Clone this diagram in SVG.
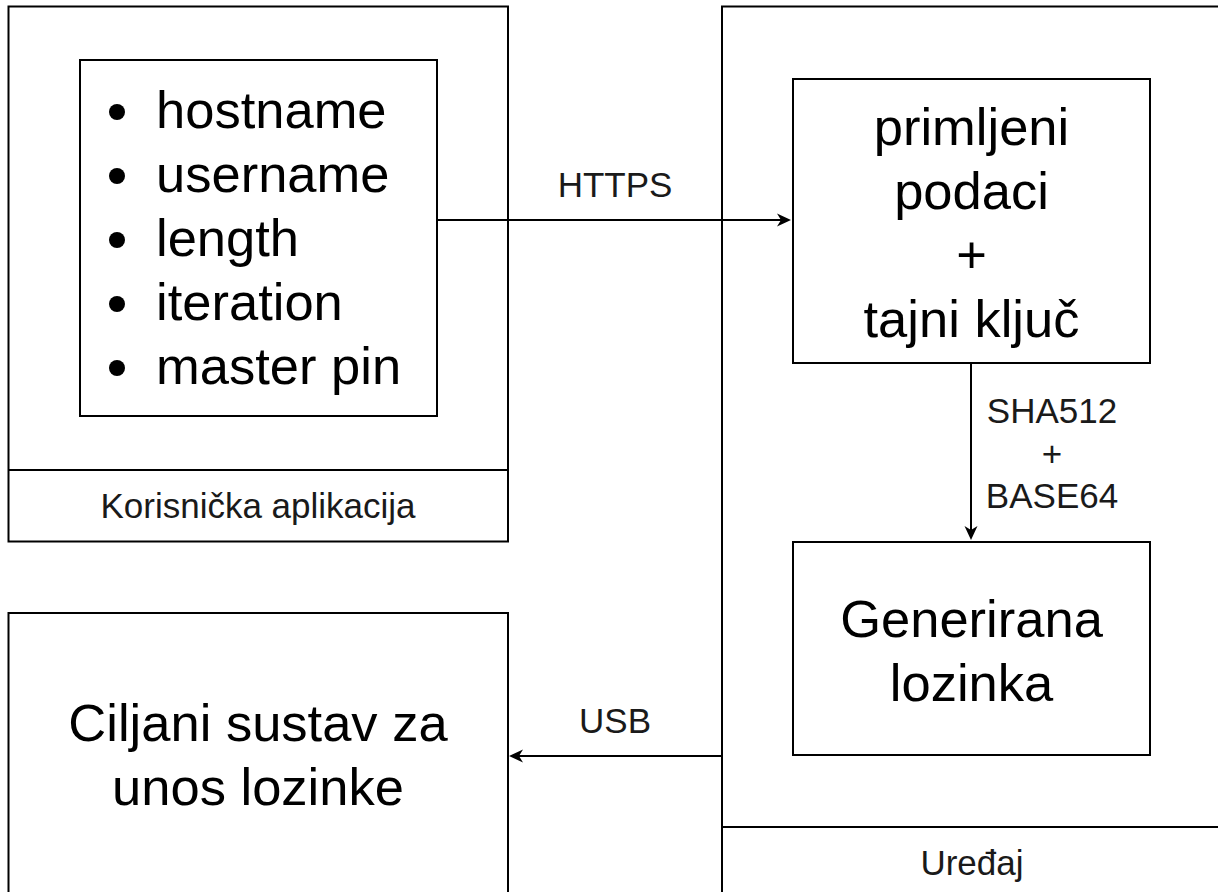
<svg xmlns="http://www.w3.org/2000/svg" width="1218" height="892" viewBox="0 0 1218 892">
  <style>
    .box { fill: #ffffff; stroke: #000000; stroke-width: 2; }
    .div { stroke: #000000; stroke-width: 2; fill: none; }
    .big { font-family: "Liberation Sans", Arial, sans-serif; font-size: 52.5px; fill: #000000; }
    .lbl { font-family: "Liberation Sans", Arial, sans-serif; font-size: 35px; fill: #1a1a1a; }
    .mid { text-anchor: middle; }
    .edge { stroke: #000000; stroke-width: 2; fill: none; }
  </style>
  <defs>
    <marker id="arrow" viewBox="0 0 16 14" markerWidth="16" markerHeight="14" refX="5" refY="7" orient="auto" markerUnits="userSpaceOnUse">
      <path d="M15,7 L1,0.5 L5,7 L1,13.5 Z" fill="#000000"/>
    </marker>
  </defs>
  <rect width="1218" height="892" fill="#ffffff"/>

  <g id="korisnicka-aplikacija">
    <rect class="box" x="8.5" y="6.5" width="499.5" height="535"/>
    <line class="div" x1="8.5" y1="470" x2="508" y2="470"/>
    <text class="lbl mid" x="258" y="518">Korisnička aplikacija</text>
  </g>

  <g id="parametri">
    <rect class="box" x="80" y="60" width="357" height="356"/>
    <circle cx="117" cy="112" r="8" fill="#000"/>
    <circle cx="117" cy="176" r="8" fill="#000"/>
    <circle cx="117" cy="240" r="8" fill="#000"/>
    <circle cx="117" cy="304" r="8" fill="#000"/>
    <circle cx="117" cy="368" r="8" fill="#000"/>
    <text class="big" x="156" y="128">hostname</text>
    <text class="big" x="156" y="192">username</text>
    <text class="big" x="156" y="256">length</text>
    <text class="big" x="156" y="320">iteration</text>
    <text class="big" x="156" y="384">master pin</text>
  </g>

  <g id="uredaj">
    <rect class="box" x="722" y="6.5" width="500" height="893"/>
    <line class="div" x1="722" y1="827" x2="1222" y2="827"/>
    <text class="lbl mid" x="972" y="875">Uređaj</text>
  </g>

  <g id="primljeni-podaci">
    <rect class="box" x="793" y="79" width="357" height="284"/>
    <text class="big mid" x="971.5" y="145">primljeni</text>
    <text class="big mid" x="971.5" y="209">podaci</text>
    <text class="big mid" x="971.5" y="273">+</text>
    <text class="big mid" x="971.5" y="337">tajni ključ</text>
  </g>

  <g id="generirana-lozinka">
    <rect class="box" x="793" y="542" width="357" height="213"/>
    <text class="big mid" x="971.5" y="637">Generirana</text>
    <text class="big mid" x="971.5" y="701">lozinka</text>
  </g>

  <g id="ciljani-sustav">
    <rect class="box" x="8.5" y="613" width="499.5" height="290"/>
    <text class="big mid" x="258" y="741">Ciljani sustav za</text>
    <text class="big mid" x="258" y="805">unos lozinke</text>
  </g>

  <g id="connectors">
    <line class="edge" x1="437" y1="220" x2="781" y2="220" marker-end="url(#arrow)"/>
    <text class="lbl mid" x="615" y="197">HTTPS</text>
    <line class="edge" x1="971" y1="363" x2="971" y2="530" marker-end="url(#arrow)"/>
    <text class="lbl mid" x="1052" y="423">SHA512</text>
    <text class="lbl mid" x="1052" y="465.5">+</text>
    <text class="lbl mid" x="1052" y="508">BASE64</text>
    <line class="edge" x1="722" y1="756" x2="519" y2="756" marker-end="url(#arrow)"/>
    <text class="lbl mid" x="615" y="733">USB</text>
  </g>
</svg>
